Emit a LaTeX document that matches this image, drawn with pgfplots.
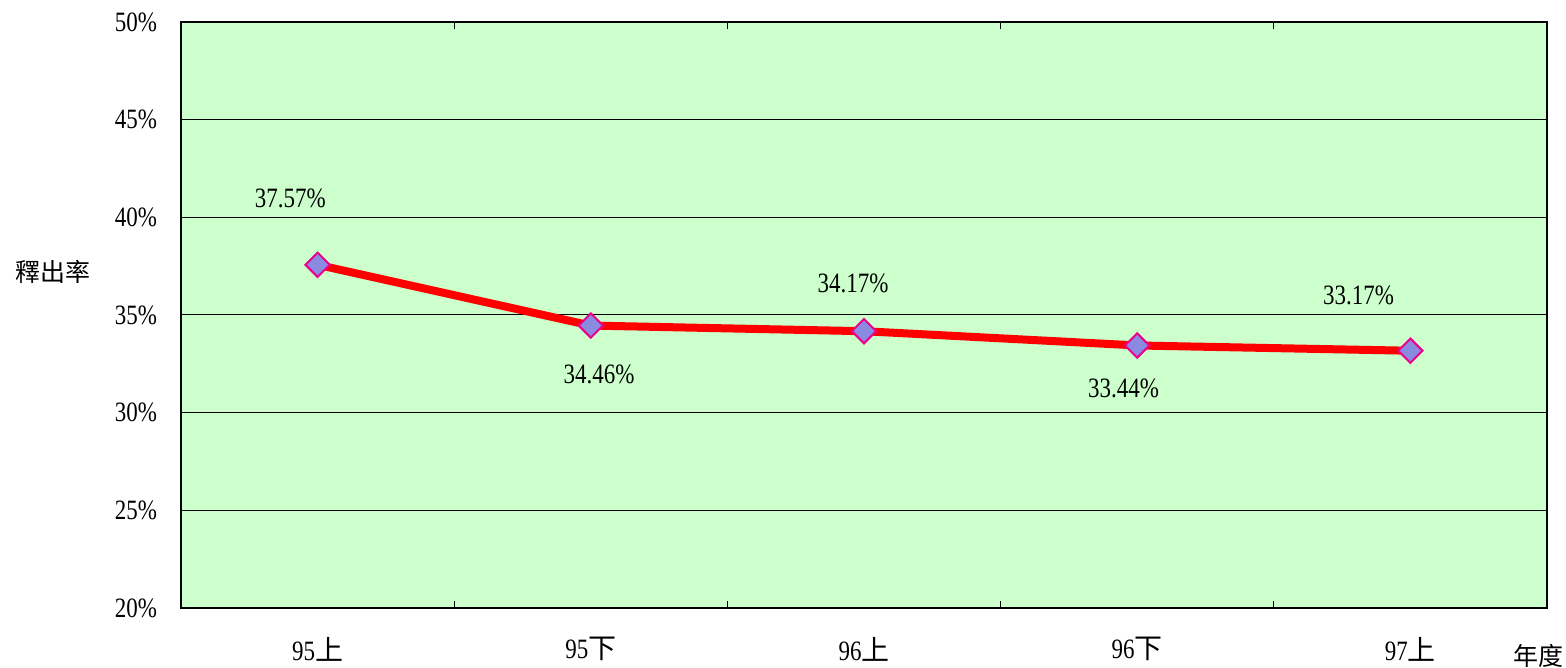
\documentclass[border=0pt]{standalone}
\usepackage{pgfplots}
\pgfplotsset{compat=1.18}
\usepackage{fontspec}
\setmainfont{Liberation Serif}[FakeStretch=0.82]
\newfontfamily\cjk{Noto Sans CJK TC}
\definecolor{bgg}{HTML}{CCFFCC}
\definecolor{mk}{HTML}{8A8AE0}
\begin{document}
\begin{tikzpicture}[x=1pt,y=1pt]
\useasboundingbox (0,0) rectangle (783,334);
\begin{axis}[
  at={(90.5pt,30pt)}, anchor=south west,
  scale only axis, width=683pt, height=293pt,
  xmin=-0.5, xmax=4.5, ymin=20, ymax=50,
  axis background/.style={fill=bgg},
  axis line style={black, line width=1pt},
  xtick={0,1,2,3,4},
  xticklabels={95{\cjk 上},95{\cjk 下},96{\cjk 上},96{\cjk 下},97{\cjk 上}},
  major x tick style={draw=none},
  minor xtick={0.5,1.5,2.5,3.5},
  minor tick length=3.5pt,
  minor x tick style={black, line width=0.5pt},
  tick align=inside,
  ytick={20,25,30,35,40,45,50},
  yticklabels={20\%,25\%,30\%,35\%,40\%,45\%,50\%},
  major y tick style={draw=none},
  ymajorgrids, grid style={black, line width=0.5pt},
  tick label style={font=\fontsize{14}{16}\selectfont},
  xticklabel style={yshift=-11pt},
  yticklabel style={xshift=-8.5pt},
  clip=false,
]
\addplot[red, line width=4pt, mark=square*, mark size=4.3pt,
  mark options={fill=mk, draw=magenta, line width=1pt, rotate=45}]
  coordinates {(0,37.57) (1,34.46) (2,34.17) (3,33.44) (4,33.17)};
\begin{scope}[every node/.style={font=\fontsize{14}{16}\selectfont}]
\node at (axis cs:-0.10,40.95) {37.57\%};
\node at (axis cs:1.03,31.96) {34.46\%};
\node at (axis cs:1.96,36.62) {34.17\%};
\node at (axis cs:2.95,31.22) {33.44\%};
\node at (axis cs:3.81,35.98) {33.17\%};
\end{scope}
\node[font=\cjk\fontsize{12.5}{14}\selectfont, anchor=center] at (axis cs:-0.97,37.2) {釋出率};
\node[font=\cjk\fontsize{12.5}{14}\selectfont, anchor=center] at (axis cs:4.47,17.55) {年度};
\end{axis}
\end{tikzpicture}
\end{document}
